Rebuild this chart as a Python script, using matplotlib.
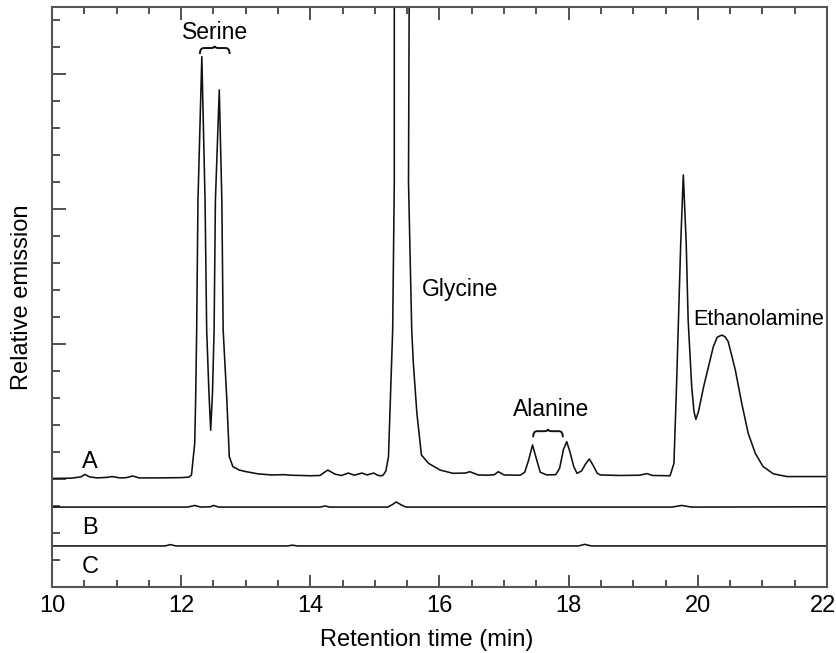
import matplotlib
matplotlib.use("Agg")
import matplotlib.pyplot as plt
import matplotlib.transforms as mtransforms
from matplotlib.path import Path
from matplotlib.patches import PathPatch
from matplotlib.ticker import MultipleLocator, FixedLocator

plt.rcParams['font.family'] = ['Liberation Sans', 'DejaVu Sans']

# ---- Data (time in min, relative emission in tick units) ----
a_time = [10.0, 10.3, 10.45, 10.51, 10.58, 10.7, 10.85, 10.93, 11.05, 11.15, 11.25, 11.35,
          11.6, 12.0, 12.12, 12.16, 12.21, 12.225, 12.24, 12.26, 12.32, 12.37, 12.395, 12.43,
          12.457, 12.485, 12.51, 12.53, 12.59, 12.63, 12.65, 12.705, 12.745, 12.80, 12.9,
          13.01, 13.19, 13.4, 13.6, 13.7, 14.0, 14.15, 14.22, 14.27, 14.33, 14.38, 14.48,
          14.59, 14.68, 14.80, 14.88, 14.98, 15.05, 15.1, 15.13, 15.17, 15.21, 15.275,
          15.30, 15.30, 15.41, 15.53, 15.52, 15.57, 15.595, 15.65, 15.72, 15.83, 16.01,
          16.21, 16.40, 16.47, 16.60, 16.75, 16.85, 16.91, 17.0, 17.25, 17.32, 17.38,
          17.44, 17.5, 17.56, 17.66, 17.8, 17.86, 17.92, 17.97, 18.02, 18.08, 18.13, 18.2,
          18.26, 18.32, 18.38, 18.44, 18.49, 18.8, 19.1, 19.21, 19.3, 19.57, 19.63, 19.67,
          19.70, 19.735, 19.775, 19.82, 19.85, 19.905, 19.94, 19.97, 20.01, 20.09, 20.24,
          20.30, 20.37, 20.42, 20.47, 20.58, 20.68, 20.78, 20.89, 21.01, 21.17, 21.38, 22.0]
a_signal = [4.02, 4.03, 4.08, 4.17, 4.08, 4.04, 4.06, 4.09, 4.04, 4.05, 4.11, 4.04,
            4.04, 4.05, 4.07, 4.15, 5.33, 7.04, 9.52, 14.3, 19.64, 14.3, 9.52, 7.2,
            5.81, 7.2, 9.52, 14.3, 18.41, 14.3, 9.52, 7.04, 4.83, 4.46, 4.33,
            4.27, 4.19, 4.15, 4.16, 4.14, 4.12, 4.13, 4.25, 4.33, 4.25, 4.18, 4.13,
            4.22, 4.14, 4.22, 4.15, 4.22, 4.13, 4.12, 4.15, 4.30, 4.83, 9.52,
            15.0, 21.4, 60.0, 21.4, 15.0, 9.52, 8.28, 6.43, 4.89, 4.58, 4.33,
            4.21, 4.22, 4.27, 4.15, 4.14, 4.16, 4.27, 4.15, 4.14, 4.25, 4.7,
            5.26, 4.75, 4.25, 4.15, 4.16, 4.4, 5.1, 5.38, 5.0, 4.45, 4.21, 4.3,
            4.55, 4.74, 4.5, 4.22, 4.15, 4.13, 4.14, 4.2, 4.13, 4.12, 4.58, 7.42,
            9.89, 12.73, 15.26, 12.73, 9.89, 7.42, 6.5, 6.21, 6.5, 7.42, 8.9,
            9.25, 9.33, 9.27, 9.09, 8.04, 6.80, 5.69, 4.95, 4.46, 4.19, 4.09, 4.09]

b_time = [10.0, 12.1, 12.21, 12.3, 12.45, 12.5, 12.58, 14.15, 14.23, 14.3, 15.2, 15.27,
          15.33, 15.4, 15.48, 19.6, 19.75, 19.9, 22.0]
b_signal = [2.96, 2.96, 3.02, 2.96, 2.97, 3.02, 2.96, 2.96, 3.0, 2.96, 2.96, 3.05,
            3.15, 3.05, 2.96, 2.96, 3.02, 2.96, 2.97]

c_time = [10.0, 11.75, 11.83, 11.92, 13.65, 13.72, 13.8, 18.15, 18.25, 18.35, 22.0]
c_signal = [1.52, 1.52, 1.57, 1.52, 1.52, 1.55, 1.52, 1.52, 1.58, 1.52, 1.52]

trace_labels = ['A', 'B', 'C']
trace_label_x = [10.59, 10.59, 10.59]
trace_label_y = [4.63, 2.19, 0.74]

peak_names = ['Serine', 'Glycine', 'Ethanolamine', 'Alanine']
peak_name_x = [12.52, 15.72, 19.93, 17.72]
peak_name_y = [20.55, 11.0, 9.89, 6.56]
peak_name_ha = ['center', 'left', 'left', 'center']
peak_name_size = [16.5, 16.5, 15.5, 16.5]

brace_x0 = [12.29, 17.45]
brace_x1 = [12.75, 17.91]
brace_y = [19.74, 5.55]

x_ticks = [10, 12, 14, 16, 18, 20, 22]
y_major = [4, 9, 14, 19]

# ---- Figure ----
fig = plt.figure(figsize=(8.37, 6.53), dpi=100)
ax = fig.add_axes([52 / 837, 66 / 653, 775 / 837, 580 / 653])

line_kw = dict(color='#111111', lw=1.15)
ax.plot(a_time, a_signal, **line_kw)
ax.plot(b_time, b_signal, **line_kw)
ax.plot(c_time, c_signal, **line_kw)

ax.set_xlim(10, 22)
ax.set_ylim(0, 21.48)

for s in ax.spines.values():
    s.set_color('#555555')
    s.set_linewidth(1.5)

ax.xaxis.set_major_locator(FixedLocator(x_ticks))
ax.xaxis.set_minor_locator(MultipleLocator(0.5))
ax.yaxis.set_major_locator(FixedLocator(y_major))
ax.yaxis.set_minor_locator(MultipleLocator(1))
ax.tick_params(axis='x', which='both', direction='in', top=True, bottom=True,
               color='#333333', width=1.2, labelsize=17, pad=6)
ax.tick_params(axis='x', which='major', length=9)
ax.tick_params(axis='x', which='minor', length=5)
ax.tick_params(axis='y', which='both', direction='in', left=True, right=False,
               labelleft=False, color='#333333', width=1.2)
ax.tick_params(axis='y', which='major', length=10)
ax.tick_params(axis='y', which='minor', length=6)

# keep the last tick label inside the figure
fig.canvas.draw()
last = ax.get_xticklabels()[-1]
last.set_transform(last.get_transform() +
                   mtransforms.ScaledTranslation(-4 / 100, 0, fig.dpi_scale_trans))

ax.set_xlabel('Retention time (min)', fontsize=17)
ax.set_ylabel('Relative emission', fontsize=17, labelpad=14)
ax.xaxis.set_label_coords(0.484, -0.072)

for lab, x, y in zip(trace_labels, trace_label_x, trace_label_y):
    ax.text(x, y, lab, fontsize=17, ha='center', va='center')

for name, x, y, ha, fs in zip(peak_names, peak_name_x, peak_name_y, peak_name_ha, peak_name_size):
    ax.text(x, y, name, fontsize=fs, ha=ha, va='center')

def overbrace(x0, x1, yb):
    h = 0.22
    tip = 0.3
    q = (x1 - x0) * 0.13
    xm = (x0 + x1) / 2
    yt = yb + h
    verts = [(x0, yb), (x0, yt), (x0 + q, yt),
             (xm - q, yt), (xm, yt), (xm, yb + tip),
             (xm, yt), (xm + q, yt),
             (x1 - q, yt), (x1, yt), (x1, yb)]
    codes = [Path.MOVETO, Path.CURVE3, Path.CURVE3,
             Path.LINETO, Path.CURVE3, Path.CURVE3,
             Path.CURVE3, Path.CURVE3,
             Path.LINETO, Path.CURVE3, Path.CURVE3]
    return PathPatch(Path(verts, codes), fill=False, lw=1.4, color='#111111')

for x0, x1, y in zip(brace_x0, brace_x1, brace_y):
    ax.add_patch(overbrace(x0, x1, y))

fig.savefig('out.png', dpi=100)
